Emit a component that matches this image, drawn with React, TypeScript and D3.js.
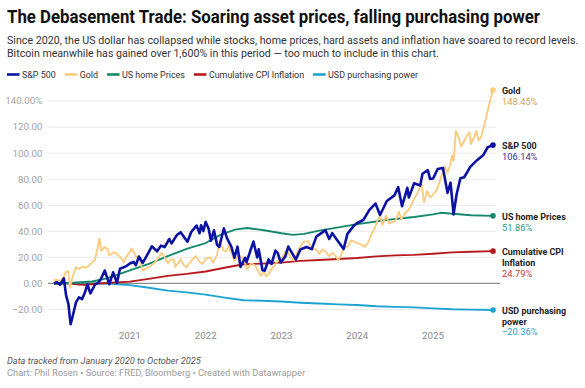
import React, { useEffect, useRef } from "react";
import * as d3 from "d3";

// decimal-year / percent pairs
const spx: [number, number][] = [
  [2020.0, 0], [2020.04, 1], [2020.08, -1], [2020.13, 3.9], [2020.16, -9.3], [2020.19, -15.7],
  [2020.21, -26.8], [2020.22, -31.3], [2020.25, -24.2], [2020.29, -14.5], [2020.33, -10.6],
  [2020.37, -12.1], [2020.41, -6.6], [2020.44, -0.8], [2020.48, -7.6], [2020.54, -1], [2020.58, 0.4],
  [2020.62, 3.5], [2020.67, 9.9], [2020.73, -0.6], [2020.78, 8.5], [2020.83, 0.4], [2020.87, 11.3],
  [2020.92, 12.4], [2020.96, 13.5], [2021.0, 15.3], [2021.05, 16.5], [2021.08, 14], [2021.12, 20.7],
  [2021.17, 15.7], [2021.23, 22], [2021.29, 28.5], [2021.36, 24.7], [2021.41, 29], [2021.46, 27.9],
  [2021.52, 34.1], [2021.55, 30.7], [2021.62, 37.1], [2021.67, 39.3], [2021.76, 32], [2021.81, 39.5],
  [2021.88, 44.4], [2021.92, 38.5], [2021.94, 44.6], [2021.97, 40.2], [2022.0, 47.2], [2022.04, 42],
  [2022.07, 32.8], [2022.11, 40.8], [2022.15, 29.7], [2022.18, 28], [2022.24, 42.2], [2022.28, 35],
  [2022.34, 28.1], [2022.38, 19.7], [2022.42, 28.2], [2022.46, 12.6], [2022.52, 19.7], [2022.54, 16.3],
  [2022.63, 32.1], [2022.68, 20], [2022.7, 26.2], [2022.75, 10.1], [2022.78, 9.8], [2022.83, 18.4],
  [2022.87, 15], [2022.92, 25.2], [2022.95, 23.4], [2022.99, 16.1], [2023.05, 20.6], [2023.09, 28.3],
  [2023.19, 18.3], [2023.25, 26.1], [2023.33, 28], [2023.4, 26.3], [2023.46, 35.9], [2023.58, 40.9],
  [2023.63, 34.1], [2023.67, 38.6], [2023.75, 32], [2023.82, 26.4], [2023.87, 38], [2023.95, 44],
  [2024.0, 46.4], [2024.08, 48.7], [2024.16, 56.4], [2024.24, 61.3], [2024.3, 52.5], [2024.39, 63.3],
  [2024.49, 67.6], [2024.54, 73.9], [2024.59, 59.2], [2024.66, 73.4], [2024.68, 66], [2024.75, 76.9],
  [2024.83, 75.1], [2024.86, 84.2], [2024.93, 86.9], [2024.96, 80.2], [2025.0, 80.5], [2025.06, 87.8],
  [2025.13, 88.6], [2025.19, 69.5], [2025.23, 77.3], [2025.27, 53], [2025.31, 68.4], [2025.36, 80.7],
  [2025.41, 81.5], [2025.49, 89.5], [2025.58, 94.6], [2025.66, 98.3], [2025.72, 104.5], [2025.79, 106.14],
];

const gold: [number, number][] = [
  [2020.0, 0], [2020.02, 3], [2020.08, 2], [2020.13, 5], [2020.15, 8.5], [2020.19, 9.5], [2020.21, -3.5],
  [2020.25, 6], [2020.29, 12.5], [2020.33, 11], [2020.38, 13], [2020.42, 12], [2020.46, 13.5],
  [2020.5, 16], [2020.54, 18], [2020.57, 26], [2020.6, 34.5], [2020.62, 25], [2020.67, 28],
  [2020.71, 26], [2020.73, 21.5], [2020.79, 24], [2020.83, 22.5], [2020.88, 20], [2020.92, 16],
  [2020.96, 21], [2021.0, 24], [2021.02, 27], [2021.08, 21], [2021.13, 18], [2021.17, 10],
  [2021.25, 12.5], [2021.33, 16], [2021.38, 20], [2021.42, 23.5], [2021.46, 20], [2021.5, 15.5],
  [2021.54, 18.5], [2021.58, 18], [2021.6, 12.5], [2021.67, 18.5], [2021.71, 14], [2021.75, 12.5],
  [2021.79, 16], [2021.87, 21], [2021.92, 16.5], [2021.96, 15], [2022.0, 19], [2022.06, 20],
  [2022.1, 16], [2022.15, 22], [2022.19, 33], [2022.23, 25.5], [2022.27, 24.5], [2022.3, 28.5],
  [2022.35, 22], [2022.38, 17.5], [2022.42, 20], [2022.46, 21], [2022.5, 18.5], [2022.55, 11],
  [2022.6, 15.5], [2022.65, 14], [2022.7, 8.5], [2022.73, 6], [2022.77, 9], [2022.8, 5.5],
  [2022.83, 7], [2022.88, 12], [2022.92, 15], [2022.96, 17.5], [2023.0, 19], [2023.07, 26],
  [2023.12, 20], [2023.17, 17.5], [2023.21, 24], [2023.25, 28.5], [2023.29, 32], [2023.35, 32.5],
  [2023.4, 27], [2023.46, 26], [2023.5, 22.5], [2023.54, 26], [2023.58, 24.5], [2023.63, 21],
  [2023.67, 23.5], [2023.71, 21.5], [2023.75, 17.5], [2023.79, 22], [2023.82, 28], [2023.87, 28],
  [2023.92, 33], [2023.96, 32], [2024.0, 31], [2024.05, 30], [2024.1, 28], [2024.15, 32],
  [2024.19, 38.5], [2024.23, 42], [2024.27, 49], [2024.3, 51], [2024.33, 45], [2024.38, 52],
  [2024.42, 46], [2024.46, 47], [2024.5, 48], [2024.55, 55], [2024.58, 49], [2024.63, 54],
  [2024.67, 56], [2024.71, 60], [2024.75, 65], [2024.79, 69], [2024.83, 74], [2024.85, 76],
  [2024.88, 62], [2024.92, 71], [2024.96, 66], [2025.0, 68], [2025.05, 72], [2025.08, 77],
  [2025.13, 86], [2025.15, 90], [2025.19, 85], [2025.23, 92], [2025.25, 98], [2025.27, 94],
  [2025.3, 117], [2025.33, 113], [2025.37, 105], [2025.4, 108], [2025.44, 113], [2025.48, 116],
  [2025.5, 107], [2025.54, 112], [2025.57, 117], [2025.6, 110], [2025.63, 112], [2025.67, 120],
  [2025.71, 130], [2025.75, 140], [2025.79, 148.45],
];

const home: [number, number][] = [
  [2020.0, 0], [2020.25, 0.5], [2020.5, 1.5], [2020.67, 3.5], [2020.83, 6.5], [2021.0, 10],
  [2021.25, 15], [2021.5, 21], [2021.75, 26.5], [2022.0, 31], [2022.2, 37.5], [2022.4, 41.5],
  [2022.55, 42.5], [2022.75, 41], [2023.0, 38.5], [2023.15, 37.3], [2023.3, 38], [2023.5, 40.5],
  [2023.75, 43], [2024.0, 45.5], [2024.25, 47.5], [2024.5, 49.5], [2024.75, 51], [2025.0, 53],
  [2025.1, 54.2], [2025.3, 53.3], [2025.5, 52.3], [2025.79, 51.86],
];

const cpi: [number, number][] = [
  [2020.0, 0], [2020.17, 0.2], [2020.33, -0.9], [2020.42, -1], [2020.58, 0], [2020.75, 0.5],
  [2021.0, 1.4], [2021.25, 3.5], [2021.5, 5.8], [2021.75, 7.3], [2022.0, 9.2], [2022.25, 12],
  [2022.5, 14.7], [2022.75, 15.2], [2023.0, 16], [2023.25, 17.3], [2023.5, 18], [2023.75, 18.8],
  [2024.0, 19.5], [2024.25, 20.8], [2024.5, 21.5], [2024.75, 21.9], [2025.0, 22.8], [2025.25, 23.8],
  [2025.5, 24.3], [2025.79, 24.79],
];

const usd: [number, number][] = [
  [2020.0, 0], [2020.33, 0], [2020.58, 0], [2020.75, -0.3], [2021.0, -1.3], [2021.25, -3.3],
  [2021.5, -5.5], [2021.75, -6.9], [2022.0, -8.6], [2022.25, -10.9], [2022.5, -12.9], [2022.75, -13.3],
  [2023.0, -13.9], [2023.25, -14.8], [2023.5, -15.4], [2023.75, -16.1], [2024.0, -16.5],
  [2024.25, -17.5], [2024.5, -18], [2024.75, -18.4], [2025.0, -19.1], [2025.25, -19.8],
  [2025.5, -20.1], [2025.79, -20.36],
];

const yTicks = [-20, 0, 20, 40, 60, 80, 100, 120, 140];
const xTicks = [2021, 2022, 2023, 2024, 2025];

const seriesNames = ["S&P 500", "Gold", "US home Prices", "Cumulative CPI Inflation", "USD purchasing power"];
const seriesData = [spx, gold, home, cpi, usd];
const lineColors = ["#0c12a2", "#fdc97c", "#16896b", "#b8191d", "#1ca3d3"];
const valueColors = ["#2f2fa3", "#c9a35b", "#2a9a7c", "#c03a3a", "#2a9fca"];
const endLabels = [["S&P 500"], ["Gold"], ["US home Prices"], ["Cumulative CPI", "Inflation"], ["USD purchasing", "power"]];
const endValues = ["106.14%", "148.45%", "51.86%", "24.79%", "\u221220.36%"];

const FONT = "Roboto, 'Noto Sans', sans-serif";

// narrow a text horizontally: either by a factor or to an exact width
function squeeze(t: d3.Selection<SVGTextElement, any, any, any>, k: number, target?: number) {
  const w = (t.node() as SVGTextElement).getComputedTextLength();
  t.attr("textLength", target ?? w * k).attr("lengthAdjust", "spacingAndGlyphs");
  return target ?? w * k;
}

// shrink font size until the natural width matches the target
function fitSize(t: d3.Selection<SVGTextElement, any, any, any>, size: number, target: number) {
  const w = (t.node() as SVGTextElement).getComputedTextLength();
  t.attr("font-size", (size * target) / w);
}

export default function App() {
  const svgRef = useRef<SVGSVGElement | null>(null);

  useEffect(() => {
    if (!svgRef.current) return;
    const svg = d3.select(svgRef.current);
    svg.selectAll("*").remove();

    const width = 585;
    const height = 388;

    const x = d3.scaleLinear().domain([2020, 2025.79]).range([54, 493]);
    const y = d3.scaleLinear().domain([-20, 140]).range([309.5, 101]);

    svg.append("rect").attr("width", width).attr("height", height).attr("fill", "#fff");

    // header
    const title = svg.append("text")
      .attr("x", 7).attr("y", 22.7)
      .text("The Debasement Trade: Soaring asset prices, falling purchasing power")
      .style("font-family", FONT).attr("font-weight", 700).attr("font-size", 17.6).attr("fill", "#111");
    squeeze(title, 1, 533);

    const sub = [
      "Since 2020, the US dollar has collapsed while stocks, home prices, hard assets and inflation have soared to record levels.",
      "Bitcoin meanwhile has gained over 1,600% in this period \u2014 too much to include in this chart.",
    ];
    const subW = [571, 432];
    sub.forEach((s, i) => {
      const t = svg.append("text")
        .attr("x", 7).attr("y", 44.3 + i * 12.6)
        .text(s)
        .style("font-family", FONT).attr("font-size", 11.4).attr("fill", "#333");
      fitSize(t, 11.4, subW[i]);
    });

    // legend
    const legend = svg.append("g");
    let lx = 7;
    seriesNames.forEach((name, i) => {
      legend.append("line")
        .attr("x1", lx).attr("x2", lx + 12.5).attr("y1", 74.5).attr("y2", 74.5)
        .attr("stroke", lineColors[i]).attr("stroke-width", 2.6);
      const t = legend.append("text")
        .attr("x", lx + 15).attr("y", 78)
        .text(name)
        .style("font-family", FONT).attr("font-size", 9.8).attr("fill", "#333");
      const w = squeeze(t, 0.91);
      lx += 15 + w + 9;
    });

    // grid + y labels
    svg.append("g").selectAll("line").data(yTicks.filter((d) => d !== 0)).join("line")
      .attr("x1", 48).attr("x2", 496)
      .attr("y1", (d) => y(d)).attr("y2", (d) => y(d))
      .attr("stroke", "#e9e9e9").attr("stroke-width", 1);

    svg.append("g").selectAll("text").data(yTicks).join("text")
      .attr("x", 42.5).attr("y", (d) => y(d)).attr("dy", "0.35em")
      .attr("text-anchor", "end")
      .text((d) => (d < 0 ? "\u2212" : "") + Math.abs(d).toFixed(2) + (d === 140 ? "%" : ""))
      .style("font-family", FONT).attr("font-size", 9.8).attr("fill", "#a3a3a3");

    svg.append("line")
      .attr("x1", 48).attr("x2", 500).attr("y1", y(0)).attr("y2", y(0))
      .attr("stroke", "#8c8c8c").attr("stroke-width", 1.3);

    // x labels
    svg.append("g").selectAll("text").data(xTicks).join("text")
      .attr("x", (d) => x(d)).attr("y", 338.5)
      .attr("text-anchor", "middle")
      .text((d) => String(d))
      .style("font-family", FONT).attr("font-size", 9.8).attr("fill", "#8a8a8a");

    // lines, back to front
    const line = d3.line<[number, number]>().x((d) => x(d[0])).y((d) => y(d[1])).curve(d3.curveLinear);
    const order = [4, 3, 2, 1, 0];
    const widths = [2.6, 1.8, 1.9, 1.9, 1.9];
    order.forEach((i) => {
      svg.append("path")
        .datum(seriesData[i])
        .attr("d", line)
        .attr("fill", "none")
        .attr("stroke", lineColors[i])
        .attr("stroke-width", widths[i])
        .attr("stroke-linejoin", "round");
    });

    // end dots + labels
    order.forEach((i) => {
      const last = seriesData[i][seriesData[i].length - 1];
      const ex = x(last[0]);
      const ey = y(last[1]);
      svg.append("circle").attr("cx", ex).attr("cy", ey).attr("r", 2.8).attr("fill", lineColors[i]);
      const g = svg.append("g").style("font-family", FONT).attr("font-size", 9.8);
      endLabels[i].forEach((s, k) => {
        const t = g.append("text").attr("x", 502).attr("y", ey + 4 + k * 10.7)
          .text(s).attr("font-weight", 700).attr("fill", "#222");
        squeeze(t, 0.91);
      });
      const v = g.append("text").attr("x", 502).attr("y", ey + 4 + endLabels[i].length * 10.7)
        .text(endValues[i]).attr("fill", valueColors[i]);
      squeeze(v, 0.95);
    });

    // footer
    svg.append("text")
      .attr("x", 7).attr("y", 363.5)
      .text("Data tracked from January 2020 to October 2025")
      .style("font-family", FONT).attr("font-style", "italic").attr("font-size", 9.2).attr("fill", "#555");
    svg.append("text")
      .attr("x", 7).attr("y", 376)
      .text("Chart: Phil Rosen \u2022 Source: FRED, Bloomberg \u2022 Created with Datawrapper")
      .style("font-family", FONT).attr("font-size", 9.3).attr("fill", "#9a9a9a");
  }, []);

  return (
    <svg
      ref={svgRef}
      width={585}
      height={388}
      style={{ position: "absolute", left: 0, top: 0, display: "block" }}
    />
  );
}
